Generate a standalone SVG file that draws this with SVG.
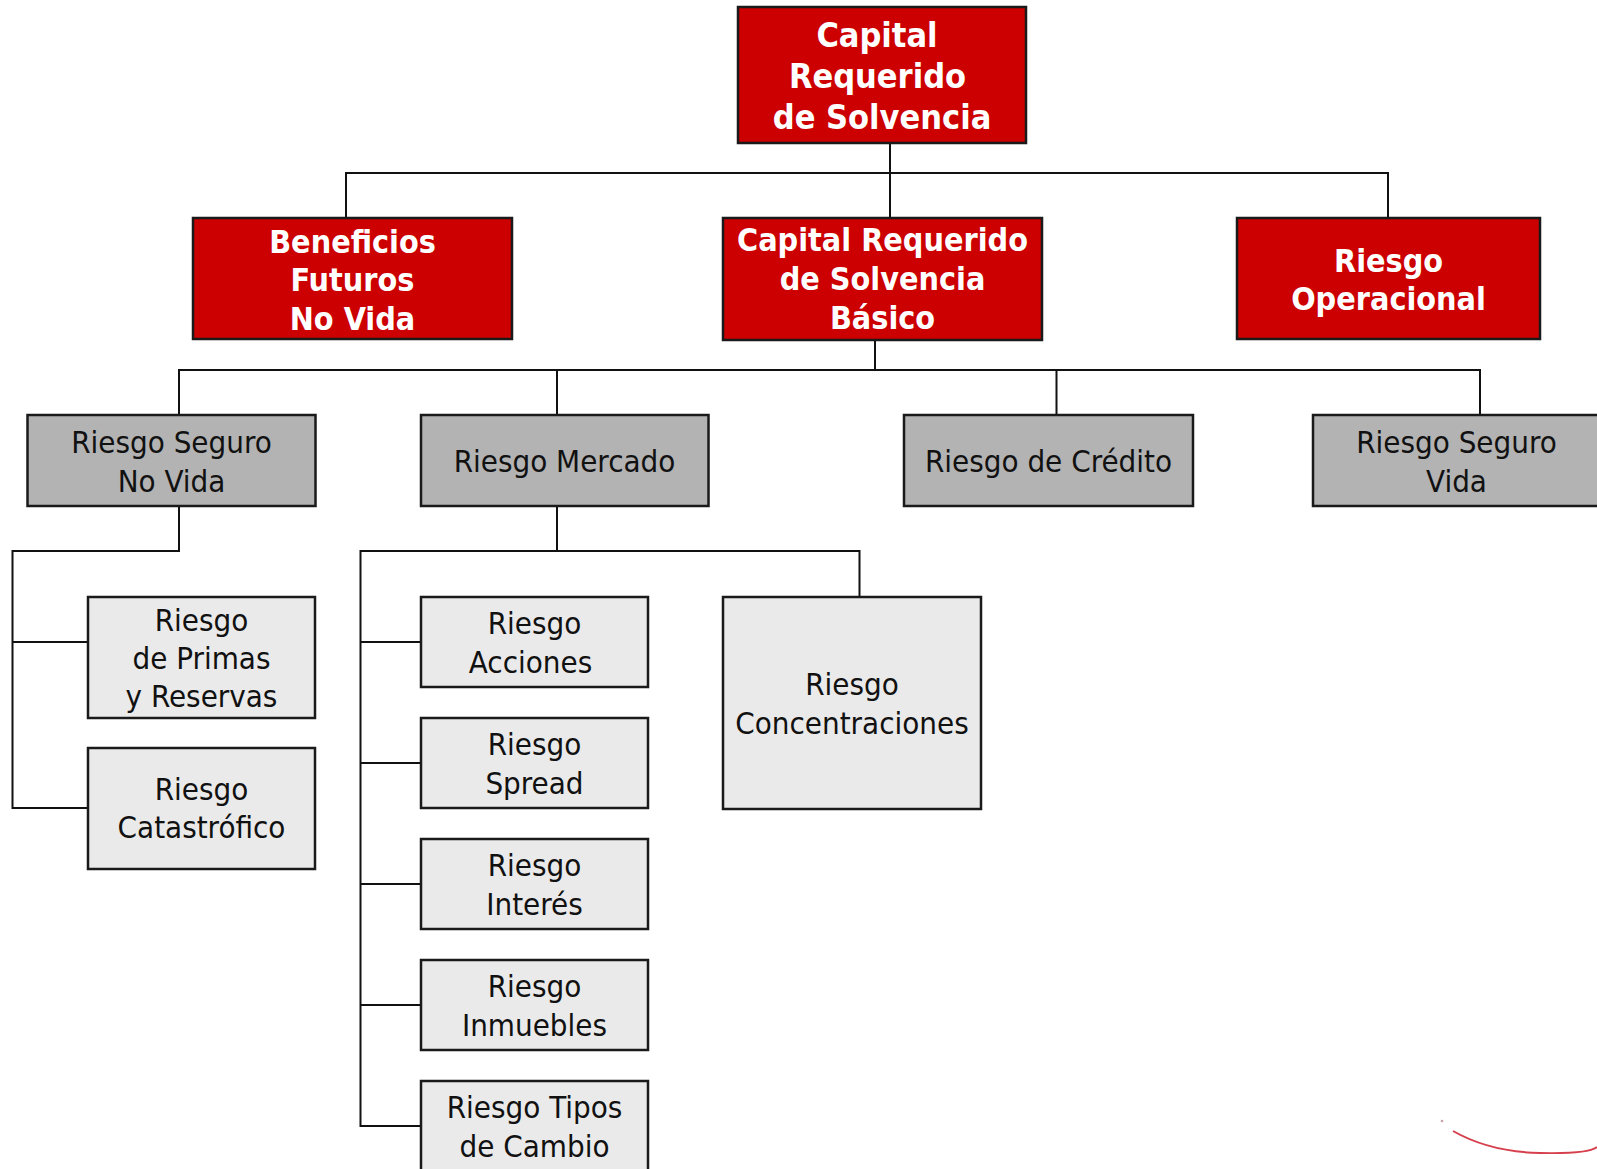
<svg xmlns="http://www.w3.org/2000/svg" width="1597" height="1169" viewBox="0 0 1597 1169">
<style>
.red{fill:#CC0000;stroke:#1a1a1a;stroke-width:2.5}
.gray{fill:#B3B3B3;stroke:#1a1a1a;stroke-width:2.5}
.light{fill:#EAEAEA;stroke:#1a1a1a;stroke-width:2.5}
.tw{font-family:"DejaVu Sans Condensed","DejaVu Sans",sans-serif;font-weight:bold;fill:#ffffff;text-anchor:middle}
.tb{font-family:"DejaVu Sans Condensed","DejaVu Sans",sans-serif;fill:#111111;text-anchor:middle;font-size:31px}
.c{fill:none;stroke:#111111;stroke-width:2}
</style>
<rect width="1597" height="1169" fill="#ffffff"/>
<g id="connectors">
<path class="c" d="M890 143V173M346 218V173H1388V218M890 173V218"/>
<path class="c" d="M875 340V370M179 415V370H1480V415M557 370V415M1056.5 370V415"/>
<path class="c" d="M179 506V551H12.5V808H88M12.5 642H88"/>
<path class="c" d="M557 506V551H360.5V1126H421M360.5 642H421M360.5 763H421M360.5 884H421M360.5 1005H421M557 551H859.5V597"/>
</g>
<g id="n-crs">
<rect class="red" x="738" y="7" width="288" height="136"/>
<text class="tw" font-size="34" x="877" y="47">Capital</text>
<text class="tw" font-size="34" x="877.5" y="88">Requerido</text>
<text class="tw" font-size="34" x="882" y="129">de Solvencia</text>
</g>
<g id="n-beneficios">
<rect class="red" x="193" y="218" width="319" height="121"/>
<text class="tw" font-size="32" x="352.5" y="252.5">Beneficios</text>
<text class="tw" font-size="32" x="352.5" y="291">Futuros</text>
<text class="tw" font-size="32" x="352.5" y="329.5">No Vida</text>
</g>
<g id="n-basico">
<rect class="red" x="723" y="218" width="319" height="122"/>
<text class="tw" font-size="32" x="882.5" y="251">Capital Requerido</text>
<text class="tw" font-size="32" x="882.5" y="290">de Solvencia</text>
<text class="tw" font-size="32" x="882.5" y="329">Básico</text>
</g>
<g id="n-operacional">
<rect class="red" x="1237" y="218" width="303" height="121"/>
<text class="tw" font-size="32" x="1388.5" y="271.5">Riesgo</text>
<text class="tw" font-size="32" x="1388.5" y="310">Operacional</text>
</g>
<g id="n-novida">
<rect class="gray" x="27.5" y="415" width="288" height="91"/>
<text class="tb" x="171.5" y="453">Riesgo Seguro</text>
<text class="tb" x="171.5" y="491.5">No Vida</text>
</g>
<g id="n-mercado">
<rect class="gray" x="421" y="415" width="287.5" height="91"/>
<text class="tb" x="564.5" y="471.5">Riesgo Mercado</text>
</g>
<g id="n-credito">
<rect class="gray" x="904" y="415" width="289" height="91"/>
<text class="tb" x="1048.5" y="471.5">Riesgo de Crédito</text>
</g>
<g id="n-vida">
<rect class="gray" x="1313" y="415" width="290" height="91"/>
<text class="tb" x="1456.5" y="453">Riesgo Seguro</text>
<text class="tb" x="1456.5" y="491.5">Vida</text>
</g>
<g id="n-primas">
<rect class="light" x="88" y="597" width="227" height="121"/>
<text class="tb" x="201.5" y="630.5">Riesgo</text>
<text class="tb" x="201.5" y="669">de Primas</text>
<text class="tb" x="201.5" y="707">y Reservas</text>
</g>
<g id="n-catastrofico">
<rect class="light" x="88" y="748" width="227" height="121"/>
<text class="tb" x="201.5" y="799.5">Riesgo</text>
<text class="tb" x="201.5" y="838">Catastrófico</text>
</g>
<g id="n-acciones">
<rect class="light" x="421" y="597" width="227" height="90"/>
<text class="tb" x="534.5" y="634">Riesgo</text>
<text class="tb" x="530.5" y="672.5">Acciones</text>
</g>
<g id="n-spread">
<rect class="light" x="421" y="718" width="227" height="90"/>
<text class="tb" x="534.5" y="755">Riesgo</text>
<text class="tb" x="534.5" y="793.5">Spread</text>
</g>
<g id="n-interes">
<rect class="light" x="421" y="839" width="227" height="90"/>
<text class="tb" x="534.5" y="876">Riesgo</text>
<text class="tb" x="534.5" y="914.5">Interés</text>
</g>
<g id="n-inmuebles">
<rect class="light" x="421" y="960" width="227" height="90"/>
<text class="tb" x="534.5" y="997">Riesgo</text>
<text class="tb" x="534.5" y="1035.5">Inmuebles</text>
</g>
<g id="n-tipos">
<rect class="light" x="421" y="1081" width="227" height="95"/>
<text class="tb" x="534.5" y="1118">Riesgo Tipos</text>
<text class="tb" x="534.5" y="1156.5">de Cambio</text>
</g>
<g id="n-concentraciones">
<rect class="light" x="723" y="597" width="258" height="212"/>
<text class="tb" x="852" y="695">Riesgo</text>
<text class="tb" x="852" y="733.5">Concentraciones</text>
</g>
<g id="swoosh">
<circle cx="1442" cy="1121" r="1.3" fill="#c9a0a8"/>
<path d="M1453 1131Q1490 1152 1540 1153T1597 1147" fill="none" stroke="#cc1020" stroke-width="2" stroke-opacity="0.8"/>
</g>
</svg>
